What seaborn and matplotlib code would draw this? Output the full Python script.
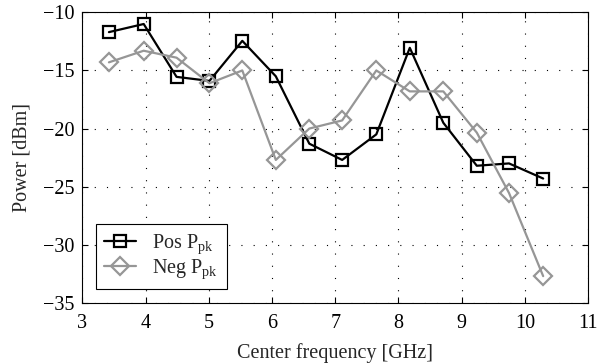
import matplotlib
matplotlib.use('Agg')
import matplotlib.pyplot as plt
import seaborn as sns
import pandas as pd

# values
freq = [3.42, 3.97, 4.49, 5.01, 5.53, 6.06, 6.59, 7.11, 7.65, 8.18, 8.71, 9.24, 9.75, 10.29]
pos_ppk = [-11.7, -11.0, -15.55, -15.9, -12.45, -15.5, -21.3, -22.7, -20.5, -13.05, -19.5, -23.2, -23.0, -24.3]
neg_ppk = [-14.3, -13.3, -13.9, -16.1, -15.0, -22.7, -20.0, -19.3, -15.0, -16.8, -16.8, -20.35, -25.55, -32.7]

df_pos = pd.DataFrame({'freq': freq, 'power': pos_ppk})
df_neg = pd.DataFrame({'freq': freq, 'power': neg_ppk})

sns.set_style('ticks')
plt.rcParams['font.family'] = ['Liberation Serif', 'DejaVu Serif']
plt.rcParams['mathtext.fontset'] = 'custom'
plt.rcParams['mathtext.rm'] = 'Liberation Serif'
plt.rcParams['mathtext.it'] = 'Liberation Serif:italic'

fs = 14.5

fig = plt.figure(figsize=(5.97, 3.64), dpi=100)
ax = fig.add_axes([0.138, 0.168, 0.847, 0.798])

sns.lineplot(data=df_pos, x='freq', y='power', ax=ax, color='black', lw=1.6,
             marker='s', markersize=9, markerfacecolor='none', markeredgecolor='black',
             markeredgewidth=1.6, label=r'Pos P$_{\rm pk}$')
sns.lineplot(data=df_neg, x='freq', y='power', ax=ax, color='#969696', lw=1.6,
             marker='D', markersize=9, markerfacecolor='none', markeredgecolor='#969696',
             markeredgewidth=1.6, label=r'Neg P$_{\rm pk}$')

ax.set_xlim(3, 11)
ax.set_ylim(-35, -10)
ax.set_xticks(range(3, 12))
ax.set_yticks(range(-35, -9, 5))
ax.set_xlabel('Center frequency [GHz]', fontsize=fs, labelpad=7)
ax.set_ylabel('Power [dBm]', fontsize=fs, labelpad=8)
ax.tick_params(axis='both', direction='in', top=True, right=True, labelsize=fs, length=4,
               width=0.8, colors='black', pad=6)
ax.tick_params(axis='x', pad=8)
ax.grid(True, color='black', linestyle=(0, (1, 10)), linewidth=0.8)
for s in ax.spines.values():
    s.set_color('black')
    s.set_linewidth(0.8)

leg = ax.legend(loc='lower left', bbox_to_anchor=(0.027, 0.047), borderaxespad=0,
                fontsize=fs, fancybox=False, framealpha=1, edgecolor='black',
                handlelength=1.6, handletextpad=0.8, labelspacing=0.1, borderpad=0.4)
leg.get_frame().set_linewidth(0.8)

fig.savefig('out.png', dpi=100)
